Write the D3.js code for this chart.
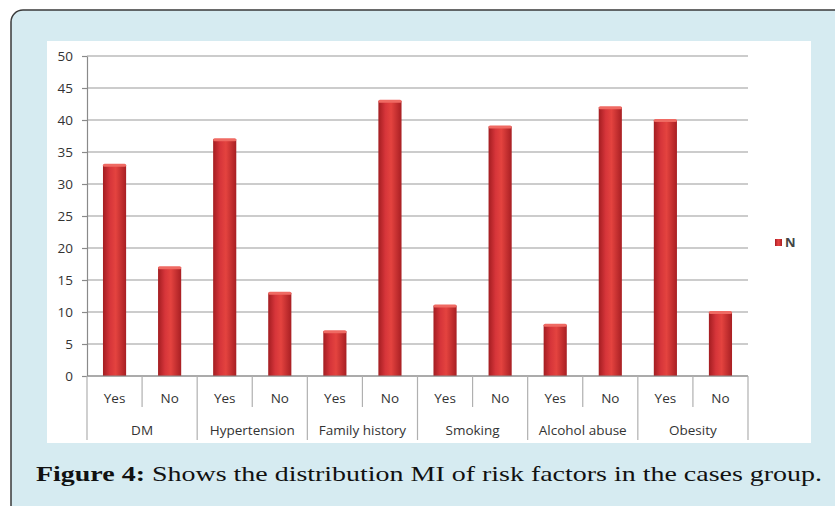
<!DOCTYPE html>
<html lang="en">
<head>
<meta charset="UTF-8">
<title>Figure 4</title>
<script src="https://cdn.jsdelivr.net/npm/d3@7"></script>
<style>
    body { margin: 0; background: #fff; }
    svg text { font-family: "Open Sans", "Noto Sans", sans-serif; fill: #333; }
    text.caption { font-family: "Liberation Serif", "DejaVu Serif", serif; fill: #111; }
</style>
</head>
<body>
<div id="chart"></div>
<script>
    const groups = ["DM", "Hypertension", "Family history", "Smoking", "Alcohol abuse", "Obesity"];
    const answers = ["Yes", "No"];
    const yesValues = [33, 37, 7, 11, 8, 40];
    const noValues = [17, 13, 43, 39, 42, 10];
    const yTicks = [0, 5, 10, 15, 20, 25, 30, 35, 40, 45, 50];
    const seriesName = "N";

    const width = 835, height = 506;

    const bars = [];
    groups.forEach(function (g, i) {
        bars.push({group: g, answer: answers[0], value: yesValues[i], key: g + "|Yes"});
        bars.push({group: g, answer: answers[1], value: noValues[i], key: g + "|No"});
    });

    const svg = d3.select("#chart").append("svg")
        .attr("width", width)
        .attr("height", height);

    // outer panel
    svg.append("rect")
        .attr("x", 11).attr("y", 10)
        .attr("width", 850).attr("height", 520)
        .attr("rx", 12)
        .attr("fill", "#d6ebf1")
        .attr("stroke", "#3a3a3a")
        .attr("stroke-width", 1.5);

    // white chart area
    svg.append("rect")
        .attr("x", 47).attr("y", 41)
        .attr("width", 764).attr("height", 402)
        .attr("fill", "#fff");

    const defs = svg.append("defs");
    const grad = defs.append("linearGradient").attr("id", "barGrad")
        .attr("x1", "0%").attr("x2", "100%").attr("y1", "0%").attr("y2", "0%");
    grad.append("stop").attr("offset", "0%").attr("stop-color", "#a31d21");
    grad.append("stop").attr("offset", "30%").attr("stop-color", "#d6353a");
    grad.append("stop").attr("offset", "55%").attr("stop-color", "#e4433f");
    grad.append("stop").attr("offset", "100%").attr("stop-color", "#a81f23");

    const plotLeft = 87, plotRight = 748, plotTop = 56, plotBottom = 376;

    const x = d3.scaleBand()
        .domain(bars.map(function (d) { return d.key; }))
        .range([plotLeft, plotRight])
        .paddingInner(0.58)
        .paddingOuter(0.29);

    const y = d3.scaleLinear().domain([0, 50]).range([plotBottom, plotTop]);

    // gridlines
    svg.append("g").selectAll("line").data(yTicks).enter()
        .append("line")
        .attr("x1", plotLeft).attr("x2", plotRight)
        .attr("y1", function (d) { return y(d); })
        .attr("y2", function (d) { return y(d); })
        .attr("stroke", "#9a9a9a")
        .attr("stroke-width", 1.2);

    // y axis
    const yAxis = svg.append("g")
        .attr("transform", "translate(" + plotLeft + ",0)")
        .call(d3.axisLeft(y).tickValues(yTicks).tickSize(5).tickSizeOuter(0).tickPadding(9));
    yAxis.select(".domain").attr("stroke", "#8a8a8a").attr("stroke-width", 1.2);
    yAxis.selectAll(".tick line").attr("stroke", "#8a8a8a").attr("stroke-width", 1.2);
    yAxis.selectAll(".tick text").style("font-size", "13.5px").style("fill", "#333")
        .style("font-family", "\"Open Sans\", sans-serif");

    // bars
    svg.append("g").selectAll("rect").data(bars).enter()
        .append("rect")
        .attr("x", function (d) { return x(d.key); })
        .attr("width", x.bandwidth())
        .attr("y", function (d) { return y(d.value); })
        .attr("height", function (d) { return y(0) - y(d.value); })
        .attr("fill", "url(#barGrad)");
    svg.append("g").selectAll("rect").data(bars).enter()
        .append("rect")
        .attr("x", function (d) { return x(d.key); })
        .attr("width", x.bandwidth())
        .attr("y", function (d) { return y(d.value) - 1; })
        .attr("height", 3)
        .attr("rx", 1.5)
        .attr("fill", "#ef6a63");

    // category axis
    const step = x.step();
    const x0 = x.range()[0];
    const catAxis = svg.append("g");
    catAxis.append("line")
        .attr("x1", plotLeft).attr("x2", plotRight)
        .attr("y1", plotBottom).attr("y2", plotBottom)
        .attr("stroke", "#8a8a8a").attr("stroke-width", 1.2);
    catAxis.selectAll("line.sep").data(d3.range(bars.length + 1)).enter()
        .append("line")
        .attr("class", "sep")
        .attr("x1", function (i) { return x0 + i * step; })
        .attr("x2", function (i) { return x0 + i * step; })
        .attr("y1", plotBottom)
        .attr("y2", function (i) { return i % 2 === 0 ? 440 : 407; })
        .attr("stroke", "#b0b0b0").attr("stroke-width", 1.2);
    catAxis.selectAll("text.sub").data(bars).enter()
        .append("text")
        .attr("class", "sub")
        .attr("x", function (d) { return x(d.key) + x.bandwidth() / 2; })
        .attr("y", 402.5)
        .attr("text-anchor", "middle")
        .style("font-size", "13.5px")
        .text(function (d) { return d.answer; });
    catAxis.selectAll("text.grp").data(groups).enter()
        .append("text")
        .attr("class", "grp")
        .attr("x", function (g, i) { return x0 + (i * 2 + 1) * step; })
        .attr("y", 434.5)
        .attr("text-anchor", "middle")
        .style("font-size", "13.5px")
        .text(function (g) { return g; });

    // legend
    const legend = svg.append("g").attr("transform", "translate(775,239)");
    legend.append("rect").attr("width", 7).attr("height", 7).attr("fill", "url(#barGrad)");
    legend.append("text").attr("x", 10).attr("y", 8)
        .style("font-size", "13px").style("font-weight", "bold").style("fill", "#444")
        .text(seriesName);

    // caption
    const cap = svg.append("text")
        .attr("class", "caption")
        .attr("x", 36).attr("y", 481)
        .attr("textLength", 786)
        .attr("lengthAdjust", "spacingAndGlyphs")
        .style("font-size", "21px");
    cap.append("tspan").style("font-weight", "bold").text("Figure 4:");
    cap.append("tspan").text(" Shows the distribution MI of risk factors in the cases group.");
</script>
</body>
</html>
